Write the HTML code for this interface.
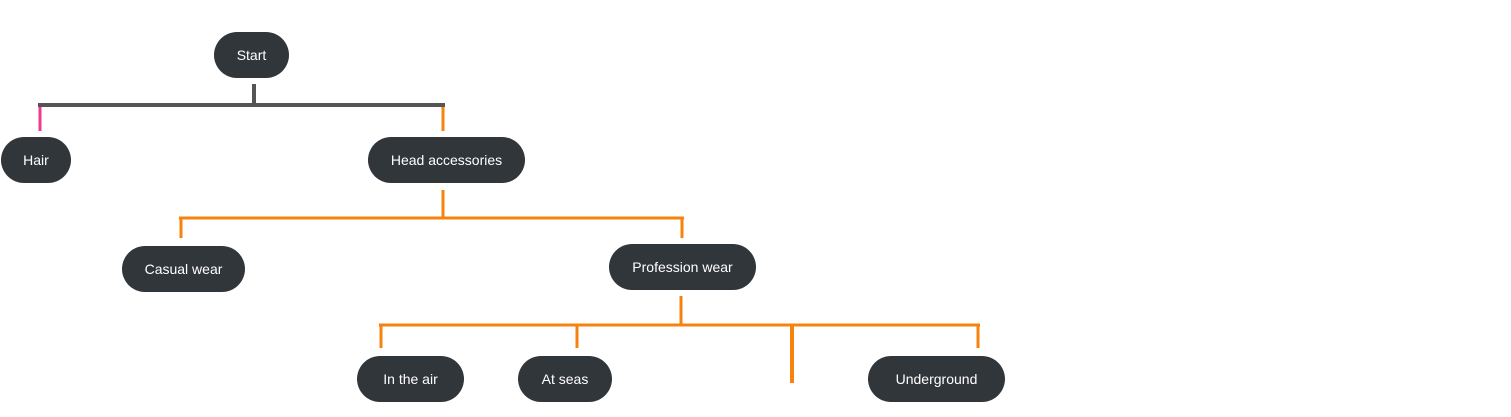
<!DOCTYPE html>
<html><head><style>
body{margin:0;width:1511px;height:417px;background:#fff;position:relative;overflow:hidden;font-family:"Liberation Sans",sans-serif}
.n{position:absolute;background:#31363b;color:#fff;border-radius:23px;height:46px;display:flex;align-items:center;justify-content:center;font-size:14px}
svg{position:absolute;left:0;top:0}
</style></head><body>
<svg width="1511" height="417">
<g stroke="#555" stroke-width="4" fill="none">
<line x1="254" y1="84" x2="254" y2="104"/>
<line x1="38" y1="105" x2="445" y2="105"/>
</g>
<line x1="40" y1="107" x2="40" y2="131" stroke="#ee3b8f" stroke-width="3"/>
<g stroke="#f7830f" stroke-width="3" fill="none">
<line x1="443" y1="107" x2="443" y2="131"/>
<line x1="443" y1="190" x2="443" y2="217"/>
<line x1="179" y1="218" x2="684" y2="218"/>
<line x1="181" y1="218" x2="181" y2="238"/>
<line x1="682" y1="218" x2="682" y2="238"/>
<line x1="681" y1="296" x2="681" y2="324"/>
<line x1="379" y1="325" x2="980" y2="325"/>
<line x1="381" y1="325" x2="381" y2="348"/>
<line x1="577" y1="325" x2="577" y2="348"/>
<line x1="978" y1="325" x2="978" y2="348"/>
<line x1="792" y1="325" x2="792" y2="383" stroke-width="4"/>
</g>
</svg>
<div class="n" style="left:214px;top:32px;width:75px">Start</div>
<div class="n" style="left:1px;top:137px;width:70px">Hair</div>
<div class="n" style="left:368px;top:137px;width:157px">Head accessories</div>
<div class="n" style="left:122px;top:246px;width:123px">Casual wear</div>
<div class="n" style="left:609px;top:244px;width:147px">Profession wear</div>
<div class="n" style="left:357px;top:356px;width:107px">In the air</div>
<div class="n" style="left:518px;top:356px;width:94px">At seas</div>
<div class="n" style="left:868px;top:356px;width:137px">Underground</div>
</body></html>
